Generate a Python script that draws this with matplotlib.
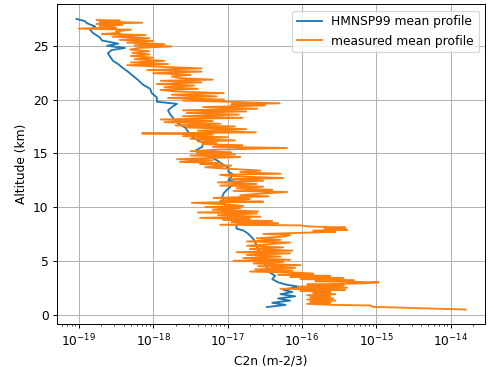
import numpy as np
import matplotlib
matplotlib.use("Agg")
import matplotlib.pyplot as plt

# HMNSP99 mean profile: altitude (km) and log10(C2n)
blue_alt = [0.7, 0.9, 1.1, 1.3, 1.5, 1.7, 1.9, 2.1, 2.3, 2.6, 2.8, 3.0, 3.3, 3.6, 4.0, 4.5,
            5.0, 5.5, 6.0, 6.5, 7.0, 7.5, 7.8, 8.0, 8.2, 8.5, 9.0, 9.5, 10.0, 10.5, 11.0,
            11.3, 11.6, 12.0, 12.3, 12.5, 12.8, 13.0, 13.3, 13.6, 14.0, 14.3, 14.6, 15.0,
            15.3, 15.6, 16.0, 16.3, 16.6, 17.0, 17.4, 17.8, 18.2, 18.6, 19.0, 19.3, 19.6,
            19.8, 20.2, 20.6, 21.0, 21.4, 21.8, 22.2, 22.6, 23.0, 23.3, 23.6, 24.0, 24.3,
            24.6, 24.8, 25.0, 25.2, 25.5, 25.8, 26.2, 26.5, 26.8, 27.1, 27.3, 27.5]
blue_log = [-16.47, -16.22, -16.40, -16.16, -16.32, -16.09, -16.29, -16.13, -16.25, -16.05,
            -16.22, -16.32, -16.40, -16.36, -16.45, -16.48, -16.53, -16.53, -16.59, -16.61,
            -16.65, -16.72, -16.78, -16.88, -16.88, -16.86, -16.96, -16.99, -17.02, -17.05,
            -17.07, -17.05, -17.01, -16.94, -16.86, -16.99, -16.95, -16.92, -16.99, -16.98,
            -17.07, -17.13, -17.21, -17.40, -17.42, -17.34, -17.33, -17.42, -17.49, -17.53,
            -17.57, -17.67, -17.72, -17.77, -17.80, -17.75, -17.68, -17.95, -17.95, -18.02,
            -18.04, -18.14, -18.20, -18.27, -18.34, -18.42, -18.47, -18.54, -18.58, -18.61,
            -18.56, -18.38, -18.62, -18.47, -18.69, -18.72, -18.81, -18.85, -18.78, -18.89,
            -18.92, -19.03]

# measured mean profile: altitude (km) and log10(C2n)
orange_alt = [0.47, 0.72, 0.85, 0.90, 1.0, 1.1, 1.2, 1.3, 1.4, 1.5, 1.6, 1.7, 1.8, 1.9, 2.0,
              2.1, 2.2, 2.3, 2.4, 2.5, 2.6, 2.7, 2.8, 2.9, 3.0, 3.1, 3.2, 3.3, 3.4, 3.5, 3.6,
              3.7, 3.8, 3.9, 4.0, 4.1, 4.2, 4.35, 4.5, 4.6, 4.75, 4.9, 5.0, 5.1, 5.25, 5.4,
              5.55, 5.7, 5.8, 5.95, 6.1, 6.25, 6.4, 6.55, 6.7, 6.8, 6.95, 7.1, 7.25, 7.4,
              7.5, 7.6, 7.7, 7.8, 7.9, 8.0, 8.1, 8.2, 8.3, 8.35, 8.5, 8.6, 8.7, 8.8, 8.9,
              9.0, 9.1, 9.25, 9.4, 9.5, 9.6, 9.75, 9.9, 10.0, 10.1, 10.25, 10.4, 10.5, 10.6,
              10.75, 10.85, 11.0, 11.1, 11.25, 11.4, 11.5, 11.6, 11.75, 11.9, 12.0, 12.15,
              12.3, 12.45, 12.6, 12.7, 12.85, 13.0, 13.1, 13.25, 13.4, 13.55, 13.7, 13.85,
              14.0, 14.1, 14.2, 14.35, 14.45, 14.55, 14.65, 14.8, 14.9, 15.0, 15.1, 15.2,
              15.35, 15.5, 15.6, 15.75, 15.85, 15.95, 16.1, 16.2, 16.35, 16.5, 16.6, 16.75,
              16.85, 16.95, 17.1, 17.25, 17.4, 17.5, 17.6, 17.75, 17.9, 18.0, 18.15, 18.3,
              18.45, 18.6, 18.75, 18.9, 19.0, 19.15, 19.3, 19.45, 19.55, 19.65, 19.8, 19.9,
              20.0, 20.15, 20.3, 20.45, 20.6, 20.75, 20.9, 21.0, 21.15, 21.3, 21.45, 21.6,
              21.75, 21.85, 22.0, 22.15, 22.3, 22.45, 22.6, 22.75, 22.9, 23.05, 23.2, 23.3,
              23.45, 23.6, 23.75, 23.9, 24.05, 24.2, 24.35, 24.5, 24.65, 24.8, 24.95, 25.05,
              25.15, 25.3, 25.45, 25.55, 25.7, 25.85, 26.0, 26.1, 26.2, 26.35, 26.5, 26.6,
              26.7, 26.85, 26.95, 27.05, 27.15, 27.25, 27.35, 27.4]
orange_log = [-13.80, -15.05, -15.08, -15.58, -15.93, -15.62, -15.89, -15.55, -15.93, -15.58,
              -15.89, -15.62, -15.93, -15.55, -15.85, -15.62, -16.02, -15.42, -16.29, -15.39,
              -16.05, -15.44, -15.93, -15.20, -14.97, -15.82, -15.30, -16.02, -15.44, -16.16,
              -15.62, -16.32, -15.85, -16.05, -16.70, -16.13, -16.63, -16.09, -16.59, -16.02,
              -16.65, -16.25, -16.92, -16.16, -16.79, -16.29, -16.74, -16.16, -16.88, -16.13,
              -16.70, -16.25, -16.74, -16.43, -16.16, -16.74, -16.29, -16.61, -16.25, -16.16,
              -16.52, -16.02, -15.55, -15.85, -15.39, -15.70, -15.42, -15.93, -16.02, -17.10,
              -16.32, -16.95, -16.40, -17.06, -16.70, -17.37, -16.56, -17.13, -16.61, -17.40,
              -16.59, -17.20, -16.83, -17.30, -16.79, -17.01, -17.48, -16.52, -17.10, -16.70,
              -17.19, -16.45, -16.83, -16.56, -16.20, -16.92, -16.40, -16.88, -16.52, -17.10,
              -16.61, -17.13, -16.52, -16.95, -16.25, -16.88, -17.10, -16.29, -16.83, -16.56,
              -16.95, -17.30, -16.95, -17.37, -17.10, -17.64, -17.20, -17.68, -17.30, -16.83,
              -17.50, -16.90, -17.41, -16.95, -17.50, -17.10, -16.20, -17.20, -16.80, -17.33,
              -17.15, -17.40, -16.90, -17.50, -17.00, -17.60, -17.20, -18.15, -16.62, -17.40,
              -16.75, -17.55, -16.90, -17.70, -17.10, -17.85, -17.20, -17.90, -16.80, -17.60,
              -16.85, -17.55, -16.75, -17.60, -16.60, -17.33, -16.50, -16.95, -16.30, -17.00,
              -17.60, -17.05, -17.80, -17.15, -17.75, -17.05, -17.70, -17.90, -17.40, -17.85,
              -17.45, -17.95, -17.35, -17.90, -17.20, -17.65, -17.75, -17.50, -18.00, -17.35,
              -18.08, -17.35, -17.90, -18.35, -17.80, -18.30, -17.85, -18.25, -18.00, -18.30,
              -18.05, -18.28, -18.05, -18.31, -18.20, -17.75, -18.25, -17.85, -18.35, -18.00,
              -18.45, -18.05, -18.55, -18.10, -18.69, -18.45, -18.50, -18.30, -19.00, -18.50,
              -18.72, -18.41, -18.76, -18.15, -18.72, -18.45, -18.76]

x_ticks = [1e-19, 1e-18, 1e-17, 1e-16, 1e-15, 1e-14]
y_ticks = [0, 5, 10, 15, 20, 25]

blue_c2n = 10.0 ** np.array(blue_log)
orange_c2n = 10.0 ** np.array(orange_log)

DPI = 88
fig = plt.figure(figsize=(488 / DPI, 367 / DPI), dpi=DPI)
ax = fig.add_axes([0.117, 0.117, 0.877, 0.871])
ax.plot(blue_c2n, blue_alt, color="#1f77b4", lw=1.5, label="HMNSP99 mean profile")
ax.plot(orange_c2n, orange_alt, color="#ff7f0e", lw=1.5, label="measured mean profile")
ax.set_xscale("log")
ax.set_xticks(x_ticks)
ax.set_yticks(y_ticks)
ax.grid(True)
ax.set_xlabel("C2n (m-2/3)")
ax.set_ylabel("Altitude (km)")
ax.legend(loc="upper right")
fig.savefig("out.png", dpi=DPI)
